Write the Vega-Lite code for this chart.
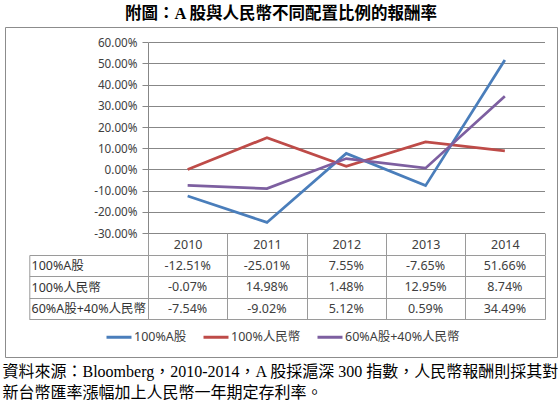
{
  "$schema": "https://vega.github.io/schema/vega-lite/v6.json",
  "autosize": {"type": "none"},
  "width": 552,
  "height": 330,
  "padding": {"left": 5, "top": 27, "right": 3, "bottom": 49},
  "background": "white",
  "title": {
    "text": "附圖：A 股與人民幣不同配置比例的報酬率",
    "anchor": "middle",
    "frame": "group",
    "fontSize": 16.5,
    "font": "'Liberation Serif', 'Noto Sans CJK TC', serif",
    "fontWeight": "bold",
    "color": "#000000",
    "offset": -1.5
  },
  "config": {
    "locale": {"number": {"decimal": ".", "thousands": ",", "grouping": [3], "currency": ["$", ""], "minus": "-"}},
    "font": "'Noto Sans', 'Noto Sans CJK TC', sans-serif",
    "view": {"stroke": "#8c8c8c", "strokeWidth": 1}
  },
  "datasets": {
    "main": [
      {"year": "2010", "series": "100%A股", "value": -0.1251},
      {"year": "2011", "series": "100%A股", "value": -0.2501},
      {"year": "2012", "series": "100%A股", "value": 0.0755},
      {"year": "2013", "series": "100%A股", "value": -0.0765},
      {"year": "2014", "series": "100%A股", "value": 0.5166},
      {"year": "2010", "series": "100%人民幣", "value": -0.0007},
      {"year": "2011", "series": "100%人民幣", "value": 0.1498},
      {"year": "2012", "series": "100%人民幣", "value": 0.0148},
      {"year": "2013", "series": "100%人民幣", "value": 0.1295},
      {"year": "2014", "series": "100%人民幣", "value": 0.0874},
      {"year": "2010", "series": "60%A股+40%人民幣", "value": -0.0754},
      {"year": "2011", "series": "60%A股+40%人民幣", "value": -0.0902},
      {"year": "2012", "series": "60%A股+40%人民幣", "value": 0.0512},
      {"year": "2013", "series": "60%A股+40%人民幣", "value": 0.0059},
      {"year": "2014", "series": "60%A股+40%人民幣", "value": 0.3449}
    ]
  },
  "data": {"name": "main"},
  "resolve": {
    "scale": {"x": "independent", "y": "independent"},
    "axis": {"x": "independent", "y": "independent"}
  },
  "layer": [
    {
      "mark": {"type": "line", "strokeWidth": 2.75},
      "encoding": {
        "x": {
          "field": "year", "type": "ordinal",
          "scale": {"type": "point", "range": [143, 539.5], "padding": 0.5},
          "axis": {
            "orient": "bottom", "domain": false, "ticks": false, "labels": false, "grid": false,
            "title": ["資料來源：Bloomberg，2010-2014，A 股採滬深 300 指數，人民幣報酬則採其對", "新台幣匯率漲幅加上人民幣一年期定存利率。"],
            "titleX": -3, "titleY": 14, "titleAlign": "left", "titleAnchor": "start", "titleBaseline": "middle",
            "titleFontSize": 16, "titleFont": "'Liberation Serif', 'Noto Sans CJK TC', serif", "titleFontWeight": "normal",
            "titleColor": "#000000", "titleLineHeight": 21, "titleLimit": 2000, "titleAngle": 0
          }
        },
        "y": {
          "field": "value", "type": "quantitative",
          "scale": {"domain": [-0.3, 0.6], "range": [206, 15.3], "nice": false, "zero": false},
          "axis": {
            "orient": "left", "offset": -143,
            "values": [-0.3, -0.2, -0.1, 0, 0.1, 0.2, 0.3, 0.4, 0.5, 0.6],
            "format": ".2%", "title": null, "grid": true, "gridColor": "#878787", "gridWidth": 1,
            "domainColor": "#878787", "tickColor": "#878787", "tickSize": 6, "labelPadding": 5,
            "labelFontSize": 11.7, "labelColor": "#404040"
          }
        },
        "color": {
          "field": "series", "type": "nominal",
          "scale": {"domain": ["100%A股", "100%人民幣", "60%A股+40%人民幣"], "range": ["#4a7ebb", "#be4b48", "#7d5fa0"]},
          "legend": {
            "orient": "none", "legendX": 100, "legendY": 296, "direction": "horizontal", "title": null,
            "symbolType": "stroke", "symbolSize": 625, "symbolStrokeWidth": 3,
            "labelFontSize": 12.5, "labelColor": "#404040", "labelOffset": 1, "columnPadding": 10, "labelLimit": 300
          }
        }
      }
    },
    {
      "mark": {"type": "text", "fontSize": 12.5, "color": "#404040"},
      "encoding": {
        "x": {
          "field": "year", "type": "ordinal",
          "scale": {"type": "band", "range": [143, 539.5], "paddingInner": 0, "paddingOuter": 0},
          "axis": {
            "orient": "top", "offset": -228, "title": null, "tickBand": "extent", "tickSize": 22,
            "tickColor": "#9a9a9a", "domainColor": "#9a9a9a", "grid": true, "gridColor": "#9a9a9a",
            "labelPadding": -11, "labelBaseline": "middle", "labelAngle": 0, "labelFontSize": 12.5, "labelColor": "#404040"
          }
        },
        "y": {
          "field": "series", "type": "ordinal", "sort": ["100%A股", "100%人民幣", "60%A股+40%人民幣"],
          "scale": {"type": "band", "range": [228, 292.3], "paddingInner": 0, "paddingOuter": 0},
          "axis": {
            "orient": "left", "offset": -143, "title": null, "tickBand": "extent", "tickSize": 118.7,
            "tickColor": "#9a9a9a", "domainColor": "#9a9a9a", "grid": true, "gridColor": "#9a9a9a",
            "labelAlign": "left", "labelPadding": -1.7, "labelBaseline": "middle", "labelFontSize": 12.5,
            "labelColor": "#333333", "labelLimit": 200
          }
        },
        "text": {"field": "value", "type": "quantitative", "format": ".2%"}
      }
    },
    {
      "mark": {"type": "text", "text": ""},
      "encoding": {
        "y": {
          "field": "series", "type": "ordinal", "sort": ["100%A股", "100%人民幣", "60%A股+40%人民幣"],
          "scale": {"type": "band", "range": [228, 292.3], "paddingInner": 0, "paddingOuter": 0},
          "axis": {
            "orient": "left", "offset": -24.3, "title": null, "labels": false, "ticks": false, "grid": false,
            "domain": true, "domainColor": "#9a9a9a"
          }
        }
      }
    }
  ]
}
